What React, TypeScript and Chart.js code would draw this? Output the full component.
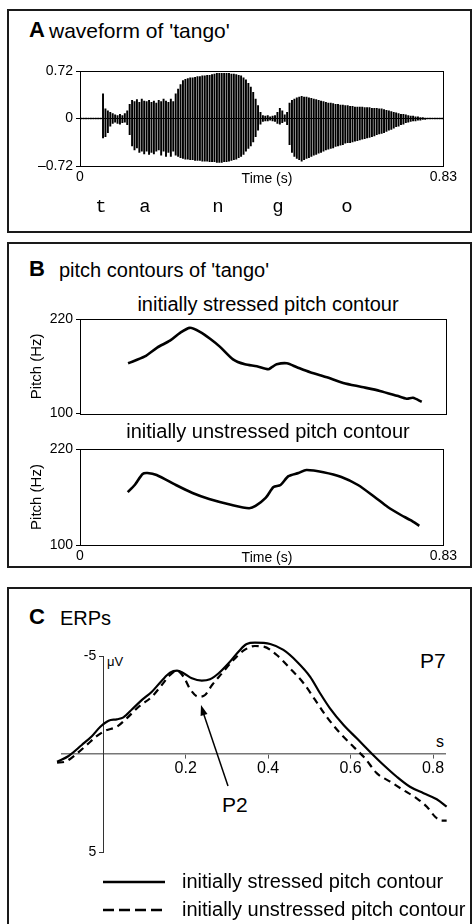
import React, { useEffect, useRef } from 'react';
import { Chart, registerables } from 'chart.js';
Chart.register(...registerables);

const FONT = "'Liberation Sans', Arial, Helvetica, sans-serif";
const MONO = "'Liberation Mono', 'Courier New', monospace";

// ---------- Panel A: waveform (one entry per glottal pulse / sample column) ----------
const waveHigh = [
  0.01, 0.01, 0.01, 0.01, 0.01, 0.01, 0.01, 0.01, 0.01, 0.38,
  0.15, 0.12, 0.10, 0.08, 0.06, 0.05, 0.07, 0.05, 0.08, 0.12,
  0.22, 0.28, 0.26, 0.29, 0.25, 0.30, 0.27, 0.26, 0.28, 0.25,
  0.27, 0.24, 0.28, 0.26, 0.30, 0.27, 0.25, 0.30, 0.26, 0.38,
  0.45, 0.52, 0.58, 0.60, 0.61, 0.62, 0.62, 0.63, 0.64, 0.64,
  0.65, 0.65, 0.66, 0.66, 0.67, 0.68, 0.69, 0.69, 0.69, 0.69,
  0.69, 0.69, 0.68, 0.68, 0.67, 0.66, 0.65, 0.62, 0.59, 0.54,
  0.48, 0.40, 0.30, 0.20, 0.10, 0.05, 0.04, 0.05, 0.03, 0.04,
  0.05, 0.10, 0.16, 0.12, 0.06, 0.10, 0.24, 0.28, 0.30, 0.32,
  0.33, 0.34, 0.33, 0.33, 0.32, 0.31, 0.30, 0.29, 0.28, 0.27,
  0.26, 0.25, 0.24, 0.24, 0.23, 0.22, 0.22, 0.21, 0.21, 0.20,
  0.20, 0.19, 0.19, 0.18, 0.18, 0.18, 0.18, 0.17, 0.17, 0.17,
  0.16, 0.16, 0.16, 0.15, 0.15, 0.14, 0.13, 0.12, 0.11, 0.10,
  0.09, 0.08, 0.07, 0.07, 0.06, 0.05, 0.04, 0.04, 0.03, 0.03,
  0.02, 0.02, 0.01, 0.01, 0.01, 0.01, 0.01, 0.01, 0.01, 0.01,
];
const waveLow = [
  -0.01, -0.01, -0.01, -0.01, -0.01, -0.01, -0.01, -0.01, -0.01, -0.30,
  -0.28, -0.22, -0.12, -0.08, -0.06, -0.08, -0.09, -0.07, -0.06, -0.10,
  -0.25, -0.42, -0.48, -0.45, -0.52, -0.50, -0.54, -0.50, -0.55, -0.52,
  -0.54, -0.50, -0.48, -0.56, -0.50, -0.58, -0.52, -0.58, -0.50, -0.56,
  -0.58, -0.60, -0.61, -0.62, -0.62, -0.63, -0.63, -0.64, -0.64, -0.64,
  -0.65, -0.65, -0.65, -0.66, -0.66, -0.66, -0.67, -0.67, -0.67, -0.66,
  -0.66, -0.65, -0.64, -0.63, -0.62, -0.60, -0.58, -0.55, -0.50, -0.46,
  -0.42, -0.36, -0.28, -0.18, -0.09, -0.05, -0.04, -0.04, -0.03, -0.04,
  -0.05, -0.08, -0.09, -0.07, -0.05, -0.10, -0.40, -0.52, -0.58, -0.61,
  -0.63, -0.65, -0.63, -0.61, -0.60, -0.58, -0.56, -0.55, -0.53, -0.52,
  -0.50, -0.48, -0.47, -0.46, -0.45, -0.43, -0.42, -0.41, -0.40, -0.38,
  -0.37, -0.37, -0.36, -0.35, -0.34, -0.33, -0.32, -0.31, -0.30, -0.29,
  -0.28, -0.27, -0.25, -0.24, -0.23, -0.22, -0.20, -0.18, -0.17, -0.15,
  -0.13, -0.12, -0.10, -0.09, -0.07, -0.06, -0.05, -0.04, -0.04, -0.03,
  -0.03, -0.02, -0.02, -0.01, -0.01, -0.01, -0.01, -0.01, -0.01, -0.01,
];
const waveAmpTicks = [-0.72, 0, 0.72];
const waveAmpLabels = ['\u20130.72', '0', '0.72'];
const timeTicks = [0, 0.83];
const timeLabels = ['0', '0.83'];
const segmentLetters = ['t', 'a', 'n', 'g', 'o'];

// ---------- Panel B: pitch contours ----------
const pitchTimesStressed = [0.109, 0.147, 0.175, 0.204, 0.227, 0.249, 0.272, 0.295, 0.317, 0.347, 0.374, 0.401, 0.427, 0.435, 0.446, 0.469, 0.492, 0.522, 0.560, 0.597, 0.639, 0.680, 0.719, 0.741, 0.755, 0.775];
const pitchStressed = [163.8, 172.5, 183.8, 192.5, 202.5, 208.8, 203.8, 195, 185, 168.8, 162.5, 160, 156.3, 158.8, 162.5, 163.8, 158.8, 152.5, 146, 138.8, 133.8, 128.8, 122.5, 118.8, 120, 115];
const pitchTimesUnstressed = [0.109, 0.125, 0.143, 0.154, 0.175, 0.219, 0.257, 0.295, 0.347, 0.386, 0.401, 0.424, 0.442, 0.458, 0.476, 0.499, 0.517, 0.556, 0.597, 0.635, 0.673, 0.703, 0.733, 0.755, 0.775];
const pitchUnstressed = [166, 175, 188.8, 190, 187.5, 175, 165, 157.5, 150, 146, 148.8, 158.8, 172.5, 175, 186, 190, 193.8, 191, 185, 175, 160, 147.5, 137.5, 131, 124];
const pitchTicks = [100, 220];
const pitchLabels = ['100', '220'];

// ---------- Panel C: ERPs ----------
const erpTimesStressed = [-0.112, -0.084, -0.052, -0.027, -0.007, 0.013, 0.033, 0.049, 0.07, 0.094, 0.118, 0.142, 0.162, 0.179, 0.195, 0.215, 0.239, 0.259, 0.28, 0.304, 0.328, 0.348, 0.368, 0.405, 0.437, 0.47, 0.502, 0.526, 0.55, 0.583, 0.615, 0.651, 0.68, 0.712, 0.744, 0.777, 0.809, 0.833];
const erpStressed = [0.39, 0.1, -0.46, -0.92, -1.39, -1.70, -1.77, -1.87, -2.28, -2.76, -3.18, -3.74, -4.15, -4.25, -4.12, -3.86, -3.74, -3.81, -4.12, -4.63, -5.22, -5.61, -5.68, -5.61, -5.31, -4.71, -3.94, -3.1, -2.33, -1.48, -0.80, -0.03, 0.56, 1.16, 1.67, 2.0, 2.31, 2.69];
const erpTimesUnstressed = [-0.112, -0.092, -0.068, -0.04, -0.015, 0.005, 0.033, 0.057, 0.086, 0.118, 0.142, 0.162, 0.179, 0.195, 0.211, 0.231, 0.247, 0.264, 0.288, 0.312, 0.34, 0.368, 0.389, 0.421, 0.453, 0.486, 0.514, 0.542, 0.575, 0.607, 0.635, 0.664, 0.696, 0.728, 0.76, 0.785, 0.805, 0.821, 0.833];
const erpUnstressed = [0.44, 0.39, 0.05, -0.46, -0.92, -1.19, -1.39, -1.82, -2.41, -2.92, -3.52, -4.03, -4.25, -3.94, -3.30, -2.92, -3.01, -3.52, -4.12, -4.71, -5.27, -5.51, -5.48, -5.05, -4.37, -3.61, -2.76, -1.9, -1.05, -0.37, 0.22, 0.99, 1.41, 1.84, 2.26, 2.69, 3.2, 3.40, 3.40];
const erpTimeTicks = [0.2, 0.4, 0.6, 0.8];
const erpTimeLabels = ['0.2', '0.4', '0.6', '0.8'];
const erpAmpTicks = [-5, 5];
const erpAmpLabels = ['-5', '5'];
const legendLabels = ['initially stressed pitch contour', 'initially unstressed pitch contour'];

const framePlugin = {
  id: 'frame',
  afterDraw(chart: any) {
    const { ctx, chartArea: a } = chart;
    ctx.save();
    ctx.strokeStyle = '#000';
    ctx.lineWidth = 1;
    const l = Math.round(a.left) + 0.5;
    const t = Math.round(a.top) + 0.5;
    ctx.strokeRect(l, t, Math.round(a.right) - Math.round(a.left), Math.round(a.bottom) - Math.round(a.top));
    ctx.restore();
  },
};

const baseOptions = {
  responsive: false,
  animation: false as const,
  events: [] as any[],
  plugins: { legend: { display: false }, tooltip: { enabled: false } },
};

const tickFont = (size: number) => ({ family: FONT, size });

function setTicks(values: number[]) {
  return (s: any) => {
    s.ticks = values.map((v) => ({ value: v }));
  };
}

function Txt(props: { x: number; y: number; size: number; bold?: boolean; anchor?: 'start' | 'middle' | 'end'; mono?: boolean; children: React.ReactNode }) {
  const { x, y, size, bold, anchor = 'start', mono, children } = props;
  const asc = mono ? 0.7665 : 0.8465;
  const tx = anchor === 'middle' ? 'translateX(-50%)' : anchor === 'end' ? 'translateX(-100%)' : 'none';
  return (
    <div
      style={{
        position: 'absolute',
        left: x,
        top: y - asc * size,
        fontSize: size,
        lineHeight: `${size}px`,
        fontFamily: mono ? MONO : FONT,
        fontWeight: bold ? 700 : 400,
        whiteSpace: 'nowrap',
        transform: tx,
        color: '#000',
      }}
    >
      {children}
    </div>
  );
}

const letterX = [101, 145, 218, 278, 347];

export default function App() {
  const refA = useRef<HTMLCanvasElement>(null);
  const refB1 = useRef<HTMLCanvasElement>(null);
  const refB2 = useRef<HTMLCanvasElement>(null);
  const refC = useRef<HTMLCanvasElement>(null);

  useEffect(() => {
    const charts: Chart[] = [];

    // Panel A
    charts.push(
      new Chart(refA.current!, {
        type: 'bar',
        data: {
          labels: waveHigh.map((_, i) => String(i)),
          datasets: [
            {
              data: waveHigh.map((h, i) => [waveLow[i], h]) as any,
              backgroundColor: '#000',
              borderWidth: 0,
              barPercentage: 0.8,
              categoryPercentage: 1,
            },
          ],
        },
        options: {
          ...baseOptions,
          layout: { padding: { left: 0, right: 15, top: 13, bottom: 0 } },
          scales: {
            x: { type: 'category', display: false, offset: true },
            xTime: {
              type: 'linear',
              position: 'bottom',
              min: 0,
              max: 0.83,
              offset: false,
              afterFit: (s: any) => { s.height = 27; },
              afterBuildTicks: setTicks(timeTicks),
              ticks: { callback: (_v: any, i: number) => timeLabels[i], font: tickFont(14), color: '#000', padding: 3, maxRotation: 0, autoSkip: false },
              grid: { display: false, drawTicks: false, offset: false },
              border: { display: false },
            },
            y: {
              min: -0.72,
              max: 0.72,
              afterFit: (s: any) => { s.width = 60; },
              afterBuildTicks: setTicks(waveAmpTicks),
              ticks: { callback: (_v: any, i: number) => waveAmpLabels[i], font: tickFont(14), color: '#000', padding: 3 },
              grid: {
                color: (c: any) => (c.tick && c.tick.value === 0 ? '#000' : 'rgba(0,0,0,0)'),
                tickColor: '#000',
                tickLength: 4,
              },
              border: { display: false },
            },
          } as any,
        },
        plugins: [framePlugin],
      } as any)
    );

    const pitchConfig = (times: number[], vals: number[], showX: boolean) => {
      const xScale: any = {
        type: 'linear',
        min: 0,
        max: 0.83,
        display: showX,
        afterBuildTicks: setTicks(timeTicks),
        ticks: { callback: (_v: any, i: number) => timeLabels[i], font: tickFont(14), color: '#000', padding: 3, maxRotation: 0, autoSkip: false },
        grid: { display: false, drawTicks: false },
        border: { display: false },
      };
      if (showX) xScale.afterFit = (s: any) => { s.height = 25; };
      return {
        type: 'line',
        data: {
          datasets: [
            {
              data: times.map((t, i) => ({ x: t, y: vals[i] })),
              borderColor: '#000',
              borderWidth: 2.6,
              pointRadius: 0,
              tension: 0.25,
              fill: false,
            },
          ],
        },
        options: {
          ...baseOptions,
          layout: { padding: { left: 0, right: 14, top: 19, bottom: showX ? 0 : 10 } },
          scales: {
            x: xScale,
            y: {
              min: 100,
              max: 220,
              afterFit: (s: any) => { s.width = 60; },
              afterBuildTicks: setTicks(pitchTicks),
              ticks: { callback: (_v: any, i: number) => pitchLabels[i], font: tickFont(14), color: '#000', padding: 3 },
              grid: { drawOnChartArea: false, color: '#000', tickLength: 4 },
              border: { display: false },
              title: { display: true, text: 'Pitch (Hz)', font: { family: FONT, size: 15 }, color: '#000', padding: { top: 8, bottom: 0 } },
            },
          },
        },
        plugins: [framePlugin],
      };
    };

    charts.push(new Chart(refB1.current!, pitchConfig(pitchTimesStressed, pitchStressed, false) as any));
    charts.push(new Chart(refB2.current!, pitchConfig(pitchTimesUnstressed, pitchUnstressed, true) as any));

    // Panel C
    charts.push(
      new Chart(refC.current!, {
        type: 'line',
        data: {
          datasets: [
            {
              data: erpTimesStressed.map((t, i) => ({ x: t, y: erpStressed[i] })),
              borderColor: '#000',
              borderWidth: 2.2,
              pointRadius: 0,
              cubicInterpolationMode: 'monotone',
              clip: false,
              fill: false,
            },
            {
              data: erpTimesUnstressed.map((t, i) => ({ x: t, y: erpUnstressed[i] })),
              borderColor: '#000',
              borderWidth: 2.2,
              borderDash: [7, 5],
              pointRadius: 0,
              cubicInterpolationMode: 'monotone',
              clip: false,
              fill: false,
            },
          ],
        },
        options: {
          ...baseOptions,
          layout: { padding: { left: 32, right: 25, top: 26, bottom: 18 } },
          scales: {
            x: {
              type: 'linear',
              min: -0.1,
              max: 0.829,
              position: { y: 0 },
              afterBuildTicks: setTicks(erpTimeTicks),
              ticks: { callback: (_v: any, i: number) => erpTimeLabels[i], font: tickFont(16), color: '#000', padding: 1, maxRotation: 0, autoSkip: false },
              grid: { drawOnChartArea: false, drawTicks: true, tickLength: 4, color: '#555' },
              border: { color: '#777', width: 1.6 },
            },
            y: {
              type: 'linear',
              min: -5,
              max: 5,
              reverse: true,
              position: { x: 0 },
              afterBuildTicks: setTicks(erpAmpTicks),
              // axis placed at x = 0 draws labels flush with the axis; an en-space keeps them clear of it
              ticks: { callback: (_v: any, i: number) => erpAmpLabels[i] + '\u2002', font: tickFont(14), color: '#000', padding: 2 },
              grid: { drawOnChartArea: false, drawTicks: true, tickLength: 4, color: '#333' },
              border: { color: '#333', width: 1 },
            },
          } as any,
        },
      } as any)
    );

    return () => {
      charts.forEach((c) => c.destroy());
    };
  }, []);

  const box = (top: number, height: number): React.CSSProperties => ({
    position: 'absolute',
    left: 7,
    top,
    width: 465,
    height,
    border: '2px solid #1a1a1a',
    boxSizing: 'border-box',
  });

  const canvasStyle = (left: number, top: number, w: number, h: number): React.CSSProperties => ({
    position: 'absolute',
    left,
    top,
    width: w,
    height: h,
    display: 'block',
  });

  return (
    <div style={{ position: 'absolute', left: 0, top: 0, width: 473, height: 924, overflow: 'hidden', background: '#fff' }}>
      <div style={box(9, 224)} />
      <div style={box(242, 326)} />
      <div style={box(587, 360)} />

      {/* Panel A */}
      <Txt x={29} y={37.5} size={22} bold>A</Txt>
      <Txt x={49} y={37.5} size={21}>waveform of 'tango'</Txt>
      <canvas ref={refA} width={440} height={135} style={canvasStyle(20, 58, 440, 135)} />
      <Txt x={267} y={183} size={14} anchor="middle">Time (s)</Txt>
      {segmentLetters.map((l, i) => (
        <Txt key={l + i} x={letterX[i]} y={213} size={19} mono anchor="middle">{l}</Txt>
      ))}

      {/* Panel B */}
      <Txt x={29} y={277} size={22} bold>B</Txt>
      <Txt x={59} y={277} size={20}>pitch contours of 'tango'</Txt>
      <Txt x={268} y={311} size={20} anchor="middle">initially stressed pitch contour</Txt>
      <canvas ref={refB1} width={440} height={125} style={canvasStyle(20, 300, 440, 125)} />
      <Txt x={268} y={438} size={20} anchor="middle">initially unstressed pitch contour</Txt>
      <canvas ref={refB2} width={440} height={140} style={canvasStyle(20, 430, 440, 140)} />
      <Txt x={267} y={562} size={14} anchor="middle">Time (s)</Txt>

      {/* Panel C */}
      <Txt x={29} y={625} size={22} bold>C</Txt>
      <Txt x={60} y={625} size={20}>ERPs</Txt>
      <Txt x={107} y={666} size={13}>μV</Txt>
      <Txt x={420} y={668} size={21}>P7</Txt>
      <Txt x={222} y={812} size={21}>P2</Txt>
      <Txt x={436} y={748} size={16}>s</Txt>
      <canvas ref={refC} width={440} height={240} style={canvasStyle(30, 630, 440, 240)} />
      <svg width={473} height={924} style={{ position: 'absolute', left: 0, top: 0, pointerEvents: 'none' }}>
        <line x1={228} y1={786} x2={203} y2={712} stroke="#000" strokeWidth={1.5} />
        <polygon points="201,705 207.5,714 200.6,716" fill="#000" />
        <line x1={103} y1={882} x2={165} y2={882} stroke="#000" strokeWidth={2.5} />
        <line x1={103} y1={910} x2={165} y2={910} stroke="#000" strokeWidth={2.5} strokeDasharray="11 5" />
      </svg>
      <Txt x={182} y={888} size={20}>{legendLabels[0]}</Txt>
      <Txt x={182} y={916} size={20}>{legendLabels[1]}</Txt>
    </div>
  );
}
